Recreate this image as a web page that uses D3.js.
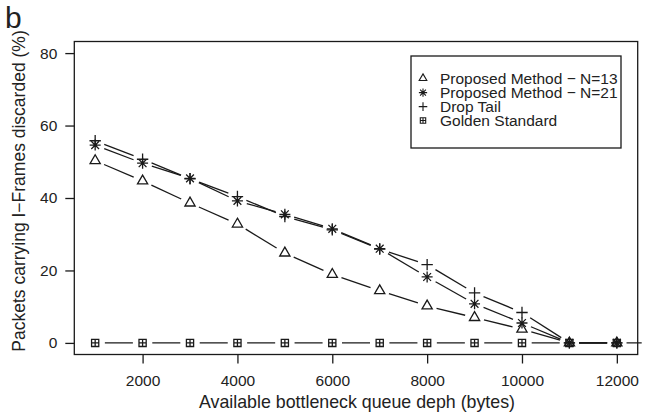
<!DOCTYPE html>
<html>
<head>
<meta charset="utf-8">
<script src="https://cdn.jsdelivr.net/npm/d3@7"></script>
<style>
  html, body { margin: 0; padding: 0; background: #fff; }
  svg { display: block; }
  text { font-family: "Liberation Sans", Arial, Helvetica, sans-serif; fill: #222; }
</style>
</head>
<body>
<svg id="chart" width="646" height="419"></svg>
<script>
// Queue depth (bytes) at which each run was measured
const queueDepth = [1000, 2000, 3000, 4000, 5000, 6000, 7000, 8000, 9000, 10000, 11000, 12000];
// The reference curve continues one step past the last tick and is clipped by the frame
const goldenDepth = [1000, 2000, 3000, 4000, 5000, 6000, 7000, 8000, 9000, 10000, 11000, 12000, 13000];

// Share of packets carrying I-frames that were discarded (%)
const proposedN13 = [50.3, 44.7, 38.6, 32.8, 24.8, 18.9, 14.4, 10.2, 7.0, 3.8, 0, 0];
const proposedN21 = [54.6, 49.6, 45.4, 39.2, 35.5, 31.5, 26.0, 18.2, 10.8, 5.5, 0, 0];
const dropTail    = [55.8, 50.7, 45.3, 40.4, 34.9, 31.2, 25.9, 21.6, 13.8, 8.4, 0, 0];
const golden      = [0, 0, 0, 0, 0, 0, 0, 0, 0, 0, 0, 0, 0];

const xTicks = [2000, 4000, 6000, 8000, 10000, 12000];
const yTicks = [0, 20, 40, 60, 80];

const legendLabels = [
  "Proposed Method \u2212 N=13",
  "Proposed Method \u2212 N=21",
  "Drop Tail",
  "Golden Standard"
];

const series = [
  { xs: queueDepth, ys: proposedN13, shape: "triangle" },
  { xs: queueDepth, ys: proposedN21, shape: "asterisk" },
  { xs: queueDepth, ys: dropTail,    shape: "plus" },
  { xs: goldenDepth, ys: golden,     shape: "boxplus" }
];

const svg = d3.select("#chart");
const plot = { left: 74.3, right: 637.7, top: 41.5, bottom: 354.5 };

// Axis ranges padded by 4% on each side
const x = d3.scaleLinear().domain([560, 12440]).range([plot.left, plot.right]);
const y = d3.scaleLinear().domain([-3.2, 83.2]).range([plot.bottom, plot.top]);

const ink = "#1a1a1a";

// Marker path generators (centered on 0,0)
function markerPath(shape, k) {
  const p = d3.path();
  if (shape === "triangle") {
    const r = 5.9 * k, w = r * Math.sqrt(3) / 2;
    p.moveTo(0, -r); p.lineTo(w, r / 2); p.lineTo(-w, r / 2); p.closePath();
  } else if (shape === "plus") {
    const h = 5.7 * k;
    p.moveTo(-h, 0); p.lineTo(h, 0); p.moveTo(0, -h); p.lineTo(0, h);
  } else if (shape === "asterisk") {
    const h = 5.5 * k, d = h / Math.SQRT2;
    p.moveTo(-h, 0); p.lineTo(h, 0); p.moveTo(0, -h); p.lineTo(0, h);
    p.moveTo(-d, -d); p.lineTo(d, d); p.moveTo(-d, d); p.lineTo(d, -d);
  } else if (shape === "boxplus") {
    const h = 3.6 * k;
    p.rect(-h, -h, 2 * h, 2 * h);
    p.moveTo(-h, 0); p.lineTo(h, 0); p.moveTo(0, -h); p.lineTo(0, h);
  }
  return p.toString();
}

// Clip region for the data layer
svg.append("defs").append("clipPath").attr("id", "plotClip")
  .append("rect")
  .attr("x", plot.left).attr("y", plot.top)
  .attr("width", plot.right - plot.left + 4).attr("height", plot.bottom - plot.top);

const dataLayer = svg.append("g").attr("clip-path", "url(#plotClip)");

// Lines with gaps around each point (point-and-line style)
const gap = 9.7;
series.forEach(s => {
  const pts = s.xs.map((v, i) => [x(v), y(s.ys[i])]);
  for (let i = 0; i < pts.length - 1; i++) {
    const [x1, y1] = pts[i], [x2, y2] = pts[i + 1];
    const dx = x2 - x1, dy = y2 - y1, len = Math.hypot(dx, dy);
    if (len <= 2 * gap) continue;
    const ux = dx / len, uy = dy / len;
    dataLayer.append("line")
      .attr("x1", x1 + ux * gap).attr("y1", y1 + uy * gap)
      .attr("x2", x2 - ux * gap).attr("y2", y2 - uy * gap)
      .attr("stroke", ink).attr("stroke-width", 1.3);
  }
  dataLayer.selectAll(null)
    .data(s.xs.map((v, i) => [v, s.ys[i]]))
    .enter().append("path")
    .attr("transform", d => `translate(${x(d[0])},${y(d[1])})`)
    .attr("d", markerPath(s.shape, 1))
    .attr("fill", "none")
    .attr("stroke", ink)
    .attr("stroke-width", 1.3);
});

// Frame
svg.append("rect")
  .attr("x", plot.left).attr("y", plot.top)
  .attr("width", plot.right - plot.left).attr("height", plot.bottom - plot.top)
  .attr("fill", "none").attr("stroke", ink).attr("stroke-width", 1.3);

// Axes
const xAxis = svg.append("g")
  .attr("transform", `translate(0,${plot.bottom})`)
  .call(d3.axisBottom(x).tickValues(xTicks).tickSize(9).tickPadding(11).tickFormat(d3.format("d")));
const yAxis = svg.append("g")
  .attr("transform", `translate(${plot.left},0)`)
  .call(d3.axisLeft(y).tickValues(yTicks).tickSize(9).tickPadding(8));
[xAxis, yAxis].forEach(a => {
  a.select(".domain").remove();
  a.selectAll(".tick line").attr("stroke", ink).attr("stroke-width", 1.3);
  a.selectAll(".tick text").attr("font-size", 15.5).attr("fill", "#222")
    .attr("font-family", "Liberation Sans, Arial, sans-serif");
});

// Axis titles
svg.append("text")
  .attr("x", (plot.left + plot.right) / 2 + 1).attr("y", 408)
  .attr("text-anchor", "middle").attr("font-size", 17.8)
  .text("Available bottleneck queue deph (bytes)");
svg.append("text")
  .attr("transform", "translate(24.5,191) rotate(-90)")
  .attr("text-anchor", "middle").attr("font-size", 17.5)
  .text("Packets carrying I\u2212Frames discarded (%)");

// Panel letter
svg.append("text").attr("x", 5).attr("y", 28).attr("font-size", 30).text("b");

// Legend
const legend = svg.append("g");
legend.append("rect")
  .attr("x", 411).attr("y", 56).attr("width", 210).attr("height", 92)
  .attr("fill", "#fff").attr("stroke", ink).attr("stroke-width", 1.3);
const rowY = [78.3, 92.6, 106.6, 120.5];
series.forEach((s, i) => {
  legend.append("path")
    .attr("transform", `translate(423,${rowY[i]})`)
    .attr("d", markerPath(s.shape, 0.75))
    .attr("fill", "none").attr("stroke", ink).attr("stroke-width", 1.1);
  legend.append("text")
    .attr("x", 440).attr("y", rowY[i]).attr("dy", "0.36em")
    .attr("font-size", 15.5)
    .text(legendLabels[i]);
});
</script>
</body>
</html>
